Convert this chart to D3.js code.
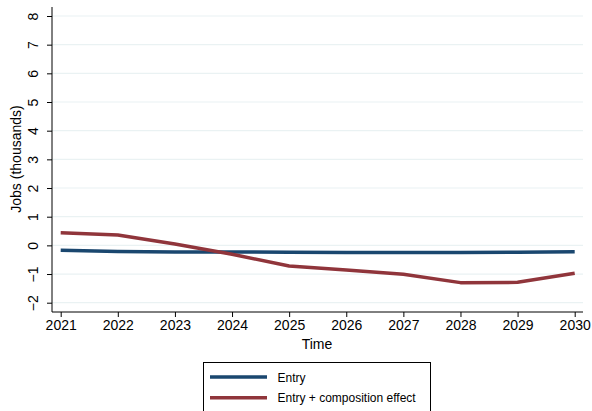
<!DOCTYPE html>
<html>
<head>
<meta charset="utf-8">
<script src="https://cdn.jsdelivr.net/npm/d3@7"></script>
<style>
  html, body { margin: 0; padding: 0; background: #fff; }
  svg { display: block; font-family: "Liberation Sans", Arial, Helvetica, sans-serif; }
</style>
</head>
<body>
<svg id="chart" width="592" height="411"></svg>
<script>
// Projected job impact by year, in thousands
const years = [2021, 2022, 2023, 2024, 2025, 2026, 2027, 2028, 2029, 2030];
const entry = [-0.17, -0.21, -0.23, -0.23, -0.24, -0.25, -0.25, -0.25, -0.24, -0.22];
const entryComposition = [0.44, 0.36, 0.05, -0.31, -0.72, -0.86, -1.01, -1.30, -1.29, -0.97];
const yTicks = [-2, -1, 0, 1, 2, 3, 4, 5, 6, 7, 8];
const seriesNames = ["Entry", "Entry + composition effect"];
const seriesColors = ["#1a476f", "#90353b"];

const svg = d3.select("#chart");
const plot = { left: 52, right: 583, top: 7, bottom: 312 };

const x = d3.scaleLinear().domain([2021, 2030]).range([60.7, 574.7]);
const y = d3.scaleLinear().domain([-2, 8]).range([302.7, 16]);

// Horizontal gridlines
svg.append("g")
  .selectAll("line")
  .data(yTicks)
  .join("line")
  .attr("x1", plot.left).attr("x2", plot.right)
  .attr("y1", d => y(d)).attr("y2", d => y(d))
  .attr("stroke", "#eaf2f3").attr("stroke-width", 1.2);

// Y axis with rotated tick labels
const yAxis = svg.append("g")
  .attr("transform", `translate(${plot.left},0)`)
  .call(d3.axisLeft(y).tickValues(yTicks).tickSize(5).tickPadding(0).tickFormat(d => d < 0 ? "\u2212" + Math.abs(d) : d));
yAxis.select(".domain").attr("d", `M0,${plot.top}V${plot.bottom}`).attr("stroke", "#000");
yAxis.selectAll(".tick line").attr("stroke", "#000");
yAxis.selectAll(".tick text")
  .attr("x", null).attr("dy", null)
  .attr("text-anchor", "middle")
  .attr("transform", "translate(-14,0) rotate(-90)")
  .attr("font-size", 14).attr("fill", "#000");

// X axis
const xAxis = svg.append("g")
  .attr("transform", `translate(0,${plot.bottom})`)
  .call(d3.axisBottom(x).tickValues(years).tickSize(5).tickPadding(3).tickFormat(d3.format("d")));
xAxis.select(".domain").attr("d", `M${plot.left},0H${plot.right}`).attr("stroke", "#000");
xAxis.selectAll(".tick line").attr("stroke", "#000");
xAxis.selectAll(".tick text").attr("font-size", 14).attr("fill", "#000");

// Axis titles
svg.append("text")
  .attr("transform", `translate(21,159) rotate(-90)`)
  .attr("text-anchor", "middle")
  .attr("font-size", 14)
  .text("Jobs (thousands)");
svg.append("text")
  .attr("x", 317).attr("y", 349)
  .attr("text-anchor", "middle")
  .attr("font-size", 14)
  .text("Time");

// Series lines
const line = d3.line().x((d, i) => x(years[i])).y(d => y(d));
[entry, entryComposition].forEach((vals, i) => {
  svg.append("path")
    .datum(vals)
    .attr("d", line)
    .attr("fill", "none")
    .attr("stroke", seriesColors[i])
    .attr("stroke-width", 3.5)
    .attr("stroke-linejoin", "round");
});

// Legend
const legend = svg.append("g");
legend.append("rect")
  .attr("x", 203.5).attr("y", 362.5)
  .attr("width", 227).attr("height", 60)
  .attr("fill", "#fff").attr("stroke", "#000").attr("stroke-width", 1);
seriesNames.forEach((name, i) => {
  const ly = 377 + i * 20.7;
  legend.append("line")
    .attr("x1", 210).attr("x2", 267)
    .attr("y1", ly).attr("y2", ly)
    .attr("stroke", seriesColors[i]).attr("stroke-width", 3.5);
  legend.append("text")
    .attr("x", 277.5).attr("y", ly + 4.5)
    .attr("font-size", 12)
    .text(name);
});
</script>
</body>
</html>
